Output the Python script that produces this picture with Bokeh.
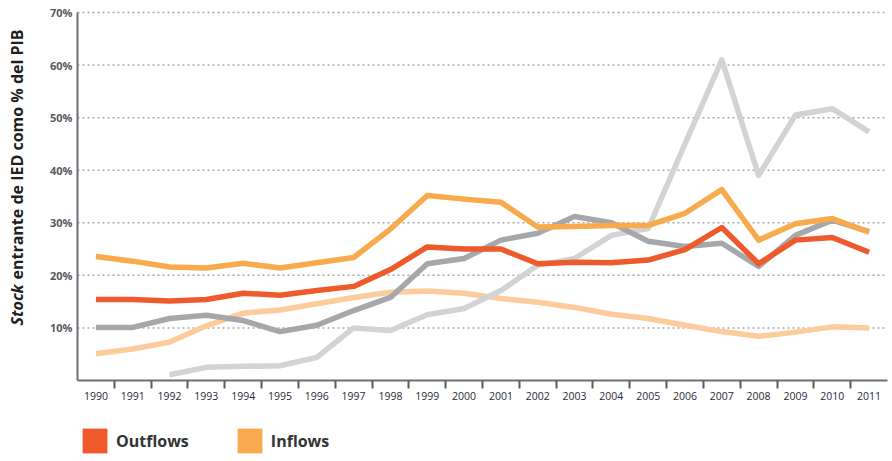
import math
from bokeh.plotting import figure
from bokeh.models import FixedTicker, Legend, LegendItem, Range1d, ColumnDataSource, Label
from bokeh.embed import file_html
from bokeh.resources import INLINE

nan = float("nan")

years = ["1990", "1991", "1992", "1993", "1994", "1995", "1996", "1997", "1998", "1999", "2000",
         "2001", "2002", "2003", "2004", "2005", "2006", "2007", "2008", "2009", "2010", "2011"]

outflows = [15.4, 15.4, 15.1, 15.4, 16.6, 16.2, 17.1, 17.9, 21.1, 25.4, 25.0,
            25.0, 22.2, 22.5, 22.4, 22.9, 24.9, 29.1, 22.2, 26.7, 27.2, 24.4]
inflows = [23.6, 22.7, 21.6, 21.4, 22.3, 21.4, 22.4, 23.4, 28.8, 35.2, 34.5,
           33.9, 29.2, 29.3, 29.5, 29.5, 31.8, 36.3, 26.7, 29.8, 30.8, 28.2]
dark_gray = [10.1, 10.1, 11.8, 12.4, 11.4, 9.3, 10.5, 13.3, 15.8, 22.2, 23.2,
             26.7, 28.0, 31.2, 30.0, 26.5, 25.5, 26.1, 21.7, 27.6, 30.5, 28.3]
light_gray = [nan, nan, 1.1, 2.5, 2.7, 2.8, 4.4, 10.0, 9.5, 12.5, 13.7,
              17.1, 21.9, 23.2, 27.6, 28.9, 45.0, 61.0, 39.0, 50.5, 51.7, 47.3]
peach = [5.1, 6.0, 7.3, 10.4, 12.8, 13.4, 14.6, 15.8, 16.8, 17.0, 16.6,
         15.6, 14.9, 13.9, 12.6, 11.8, 10.5, 9.3, 8.4, 9.2, 10.2, 10.0]

y_ticks = [10, 20, 30, 40, 50, 60, 70]
y_labels = ["10%", "20%", "30%", "40%", "50%", "60%", "70%"]
y_title_italic = "Stock"
y_title_rest = "entrante de IED como % del PIB"

Y_MIN, Y_MAX = 0, 70
X_MIN, X_MAX = -0.5, len(years) - 0.5

RED = "#EE5A2B"
ORANGE = "#F8AA4C"
DGRAY = "#A6A7AA"
LGRAY = "#D2D3D5"
PEACH = "#FDCC9C"

xs = list(range(len(years)))
src = ColumnDataSource(dict(x=xs, outflows=outflows, inflows=inflows, dark_gray=dark_gray,
                            light_gray=light_gray, peach=peach))

FONT = "Open Sans"

# The frame covers the whole canvas; the axes sit at fixed locations inside it,
# leaving room on the left for tick labels / title and below for labels / legend.
p = figure(width=892, height=461, output_backend="svg", toolbar_location=None,
           x_range=Range1d(-2.591, 21.636), y_range=Range1d(-15.41, 72.28),
           min_border_left=0, min_border_right=0, min_border_top=0, min_border_bottom=0)
p.outline_line_color = None
p.background_fill_color = "white"
p.xgrid.visible = False
p.ygrid.visible = False

# dotted horizontal grid lines at the y ticks, between the axis bounds
p.segment(x0=[X_MIN] * len(y_ticks), x1=[X_MAX] * len(y_ticks), y0=y_ticks, y1=y_ticks,
          line_color="#a7a9ac", line_dash="2 3", line_width=1.5)

for col, color in [("peach", PEACH), ("light_gray", LGRAY), ("dark_gray", DGRAY),
                   ("inflows", ORANGE), ("outflows", RED)]:
    p.line("x", col, source=src, line_color=color, line_width=5.5, line_join="round")

# x axis: labels at category centres, ticks at boundaries, drawn at y = 0
xa = p.xaxis[0]
xa.fixed_location = Y_MIN
xa.bounds = (X_MIN, X_MAX)
xa.ticker = FixedTicker(ticks=xs, minor_ticks=[i + 0.5 for i in xs[:-1]])
xa.major_label_overrides = {i: years[i] for i in xs}
xa.major_tick_line_color = None
xa.major_tick_out = 8
xa.major_tick_in = 0
xa.minor_tick_out = 8
xa.minor_tick_in = 0
xa.minor_tick_line_width = 2
xa.minor_tick_line_color = "#5a5b5e"
xa.axis_line_width = 2
xa.axis_line_color = "#6d6e71"
xa.major_label_standoff = 4
xa.major_label_text_font = FONT
xa.major_label_text_font_size = "10.5px"
xa.major_label_text_color = "#2a2a3a"

ya = p.yaxis[0]
ya.fixed_location = X_MIN
ya.bounds = (Y_MIN, Y_MAX)
ya.ticker = FixedTicker(ticks=y_ticks)
ya.major_label_overrides = {t: l for t, l in zip(y_ticks, y_labels)}
ya.major_tick_line_color = None
ya.major_tick_out = 0
ya.major_tick_in = 0
ya.minor_tick_line_color = None
ya.axis_line_width = 2
ya.axis_line_color = "#6d6e71"
ya.major_label_standoff = 5
ya.major_label_text_font = FONT
ya.major_label_text_font_size = "11px"
ya.major_label_text_font_style = "bold"
ya.major_label_text_color = "#58595b"

# y-axis title: "Stock" in italic, the rest bold (screen px from the frame's bottom-left)
common = dict(x=16, x_units="screen", y_units="screen", angle=math.pi / 2,
              text_font=FONT, text_font_size="16px", text_color="#231f20",
              text_align="left", text_baseline="middle")
p.add_layout(Label(y=136, text=y_title_italic, text_font_style="bold italic", **common))
p.add_layout(Label(y=182, text=y_title_rest, text_font_style="bold", **common))

# legend swatches (renderers with no visible data, only used for the legend)
r_out = p.quad(left=[nan], right=[nan], top=[nan], bottom=[nan], fill_color=RED, line_color=None)
r_in = p.quad(left=[nan], right=[nan], top=[nan], bottom=[nan], fill_color=ORANGE, line_color=None)

legend = Legend(items=[LegendItem(label="Outflows", renderers=[r_out]),
                       LegendItem(label="Inflows", renderers=[r_in])],
                orientation="horizontal", location=(79, 5),
                glyph_width=31, glyph_height=31, label_standoff=6, spacing=45,
                margin=0, padding=0, border_line_color=None, background_fill_color=None,
                background_fill_alpha=0,
                label_text_font=FONT, label_text_font_size="16px", label_text_font_style="bold",
                label_text_color="#333333")
p.add_layout(legend, "center")

open("out.html", "w").write(file_html(p, INLINE))
